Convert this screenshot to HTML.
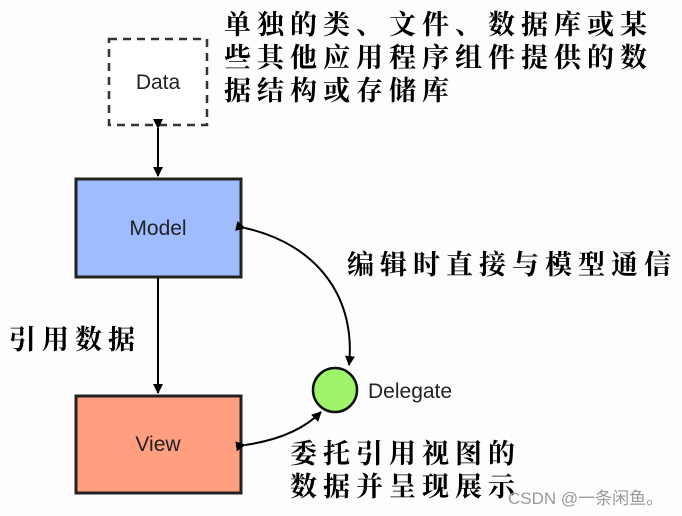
<!DOCTYPE html>
<html><head><meta charset="utf-8"><style>
body{margin:0;background:#fff;}
.c{position:absolute;font-family:"Liberation Serif","Noto Serif CJK SC",serif;font-weight:bold;font-size:27px;letter-spacing:6px;color:#000;white-space:nowrap;line-height:32px;}
.l{font-family:"Liberation Sans",sans-serif;font-size:21px;fill:#222;}
</style></head><body>
<div style="position:relative;width:682px;height:516px;overflow:hidden;background:#fdfdfd">
<svg width="682" height="516" style="position:absolute;left:0;top:0">
<defs><marker id="a" markerWidth="10" markerHeight="10" refX="9" refY="5" orient="auto" markerUnits="userSpaceOnUse"><path d="M0,0 L10,5 L0,10 z" fill="#000"/></marker></defs>
<rect x="109" y="39" width="98" height="86" fill="#fff" stroke="#333" stroke-width="2.5" stroke-dasharray="8,6"/>
<text x="158" y="89" text-anchor="middle" class="l">Data</text>
<line x1="158" y1="128" x2="158" y2="176" stroke="#000" stroke-width="2" marker-start="url(#a)" marker-end="url(#a)"/>
<rect x="76" y="179" width="165" height="98" fill="#9fbcff" stroke="#222" stroke-width="3"/>
<text x="158" y="235" text-anchor="middle" class="l">Model</text>
<line x1="158" y1="278" x2="158" y2="393" stroke="#000" stroke-width="2" marker-end="url(#a)"/>
<rect x="76" y="396" width="165" height="97" fill="#ff9f80" stroke="#222" stroke-width="3"/>
<text x="158" y="451" text-anchor="middle" class="l">View</text>
<ellipse cx="335" cy="390" rx="22" ry="22" fill="#9ff56a" stroke="#111" stroke-width="2.5"/>
<text x="368" y="398" class="l">Delegate</text>
<path d="M245,228 C320,245 356,300 349,365" fill="none" stroke="#000" stroke-width="2" marker-start="url(#a)" marker-end="url(#a)"/>
<path d="M245,445 C280,440 305,428 321,412" fill="none" stroke="#000" stroke-width="2" marker-start="url(#a)" marker-end="url(#a)"/>
</svg>
<div class="c" style="left:224px;top:9px">单独的类、文件、数据库或某</div>
<div class="c" style="left:224px;top:42px">些其他应用程序组件提供的数</div>
<div class="c" style="left:224px;top:75px">据结构或存储库</div>
<div class="c" style="left:347px;top:249px">编辑时直接与模型通信</div>
<div class="c" style="left:9px;top:324px">引用数据</div>
<div class="c" style="left:290px;top:438px">委托引用视图的</div>
<div class="c" style="left:290px;top:471px">数据并呈现展示</div>
<div style="position:absolute;left:508px;top:484px;font-family:'Liberation Sans','Noto Sans CJK SC',sans-serif;font-size:17px;color:#999;white-space:nowrap">CSDN @一条闲鱼。</div>
</div>
</body></html>
